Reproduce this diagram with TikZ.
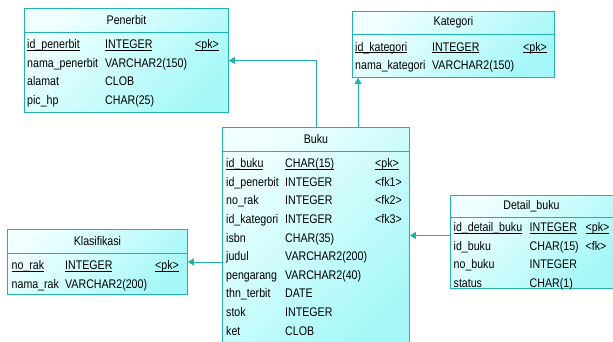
\documentclass[tikz,border=0pt]{standalone}
\usepackage{fontspec}
\setmainfont{Liberation Sans}[FakeStretch=0.85]
\usetikzlibrary{arrows.meta,positioning,calc}
\definecolor{erteal}{HTML}{22B1B1}
\definecolor{erlight}{HTML}{F0FFFF}
\definecolor{ercyan}{HTML}{A6F8F8}
\newcommand{\erfont}{\fontsize{12.5}{18.6}\selectfont}
\newcommand{\pkey}[1]{\underline{\smash{#1}}}
\tikzset{
  tbl/.style={draw=erteal,line width=0.9pt,rectangle,anchor=north west,inner sep=0pt,
              left color=erlight,right color=ercyan,shading angle=45},
  ttl/.style={font=\erfont,inner sep=0pt},
  sep/.style={draw=erteal,line width=0.9pt},
  body/.style={anchor=north west,inner sep=0pt,font=\erfont,align=left},
  rel/.style={-{Triangle[length=6pt,width=7pt]},erteal,line width=0.9pt},
}
\begin{document}
\begin{tikzpicture}[x=1pt,y=-1pt]
  \clip (0,0) rectangle (613,341);
  % Penerbit
  \node[tbl,minimum width=204pt,minimum height=104pt] (penerbit) at (24,8) {};
  \node[ttl] (penerbit-t) at ([yshift=-12pt]penerbit.north) {Penerbit};
  \draw[sep] ([yshift=-24pt]penerbit.north west) -- ([yshift=-24pt]penerbit.north east);
  \node[body] (penerbit-b) at ([xshift=3pt,yshift=-27.5pt]penerbit.north west) {%
    \begin{tabular}{@{}p{78pt}@{}p{90pt}@{}l@{}}
      \pkey{id\_penerbit} & \pkey{INTEGER} & \pkey{<pk>}\\
      nama\_penerbit & VARCHAR2(150) & \\
      alamat & CLOB & \\
      pic\_hp & CHAR(25) &
    \end{tabular}};
  % Kategori
  \node[tbl,minimum width=202pt,minimum height=66pt] (kategori) at (352,11) {};
  \node[ttl] (kategori-t) at ([yshift=-11.5pt]kategori.north) {Kategori};
  \draw[sep] ([yshift=-23pt]kategori.north west) -- ([yshift=-23pt]kategori.north east);
  \node[body] (kategori-b) at ([xshift=3pt,yshift=-27pt]kategori.north west) {%
    \begin{tabular}{@{}p{77pt}@{}p{91pt}@{}l@{}}
      \pkey{id\_kategori} & \pkey{INTEGER} & \pkey{<pk>}\\
      nama\_kategori & VARCHAR2(150) &
    \end{tabular}};
  % Buku
  \node[tbl,minimum width=187pt,minimum height=220pt] (buku) at (222,127) {};
  \node[ttl] (buku-t) at ([yshift=-12pt]buku.north) {Buku};
  \draw[sep] ([yshift=-24pt]buku.north west) -- ([yshift=-24pt]buku.north east);
  \node[body] (buku-b) at ([xshift=4pt,yshift=-27.5pt]buku.north west) {%
    \begin{tabular}{@{}p{59pt}@{}p{90pt}@{}l@{}}
      \pkey{id\_buku} & \pkey{CHAR(15)} & \pkey{<pk>}\\
      id\_penerbit & INTEGER & <fk1>\\
      no\_rak & INTEGER & <fk2>\\
      id\_kategori & INTEGER & <fk3>\\
      isbn & CHAR(35) & \\
      judul & VARCHAR2(200) & \\
      pengarang & VARCHAR2(40) & \\
      thn\_terbit & DATE & \\
      stok & INTEGER & \\
      ket & CLOB &
    \end{tabular}};
  % Klasifikasi
  \node[tbl,minimum width=180pt,minimum height=65pt] (klasifikasi) at (7,229) {};
  \node[ttl] (klasifikasi-t) at ([yshift=-12pt]klasifikasi.north) {Klasifikasi};
  \draw[sep] ([yshift=-24pt]klasifikasi.north west) -- ([yshift=-24pt]klasifikasi.north east);
  \node[body] (klasifikasi-b) at ([xshift=4.5pt,yshift=-27.5pt]klasifikasi.north west) {%
    \begin{tabular}{@{}p{53.5pt}@{}p{90pt}@{}l@{}}
      \pkey{no\_rak} & \pkey{INTEGER} & \pkey{<pk>}\\
      nama\_rak & VARCHAR2(200) &
    \end{tabular}};
  % Detail_buku
  \node[tbl,minimum width=163pt,minimum height=93pt] (detailbuku) at (449.5,195) {};
  \node[ttl] (detailbuku-t) at ([yshift=-11pt]detailbuku.north) {Detail\_buku};
  \draw[sep] ([yshift=-22pt]detailbuku.north west) -- ([yshift=-22pt]detailbuku.north east);
  \node[body] (detailbuku-b) at ([xshift=4pt,yshift=-23.5pt]detailbuku.north west) {%
    \begin{tabular}{@{}p{76pt}@{}p{56pt}@{}l@{}}
      \pkey{id\_detail\_buku} & \pkey{INTEGER} & \pkey{<pk>}\\
      id\_buku & CHAR(15) & <fk>\\
      no\_buku & INTEGER & \\
      status & CHAR(1) &
    \end{tabular}};
  % relasi
  \coordinate (bk1) at ([xshift=94pt]buku.north west);
  \coordinate (bk2) at ([xshift=136pt]buku.north west);
  \coordinate (dt) at ([yshift=6.5pt]detailbuku.west);
  \draw[rel] (bk1) |- (penerbit.east);
  \draw[rel] (bk2) -- (bk2 |- kategori.south);
  \draw[rel] (buku.west |- klasifikasi.east) -- (klasifikasi.east);
  \draw[rel] (dt) -- (dt -| buku.east);
\end{tikzpicture}
\end{document}
